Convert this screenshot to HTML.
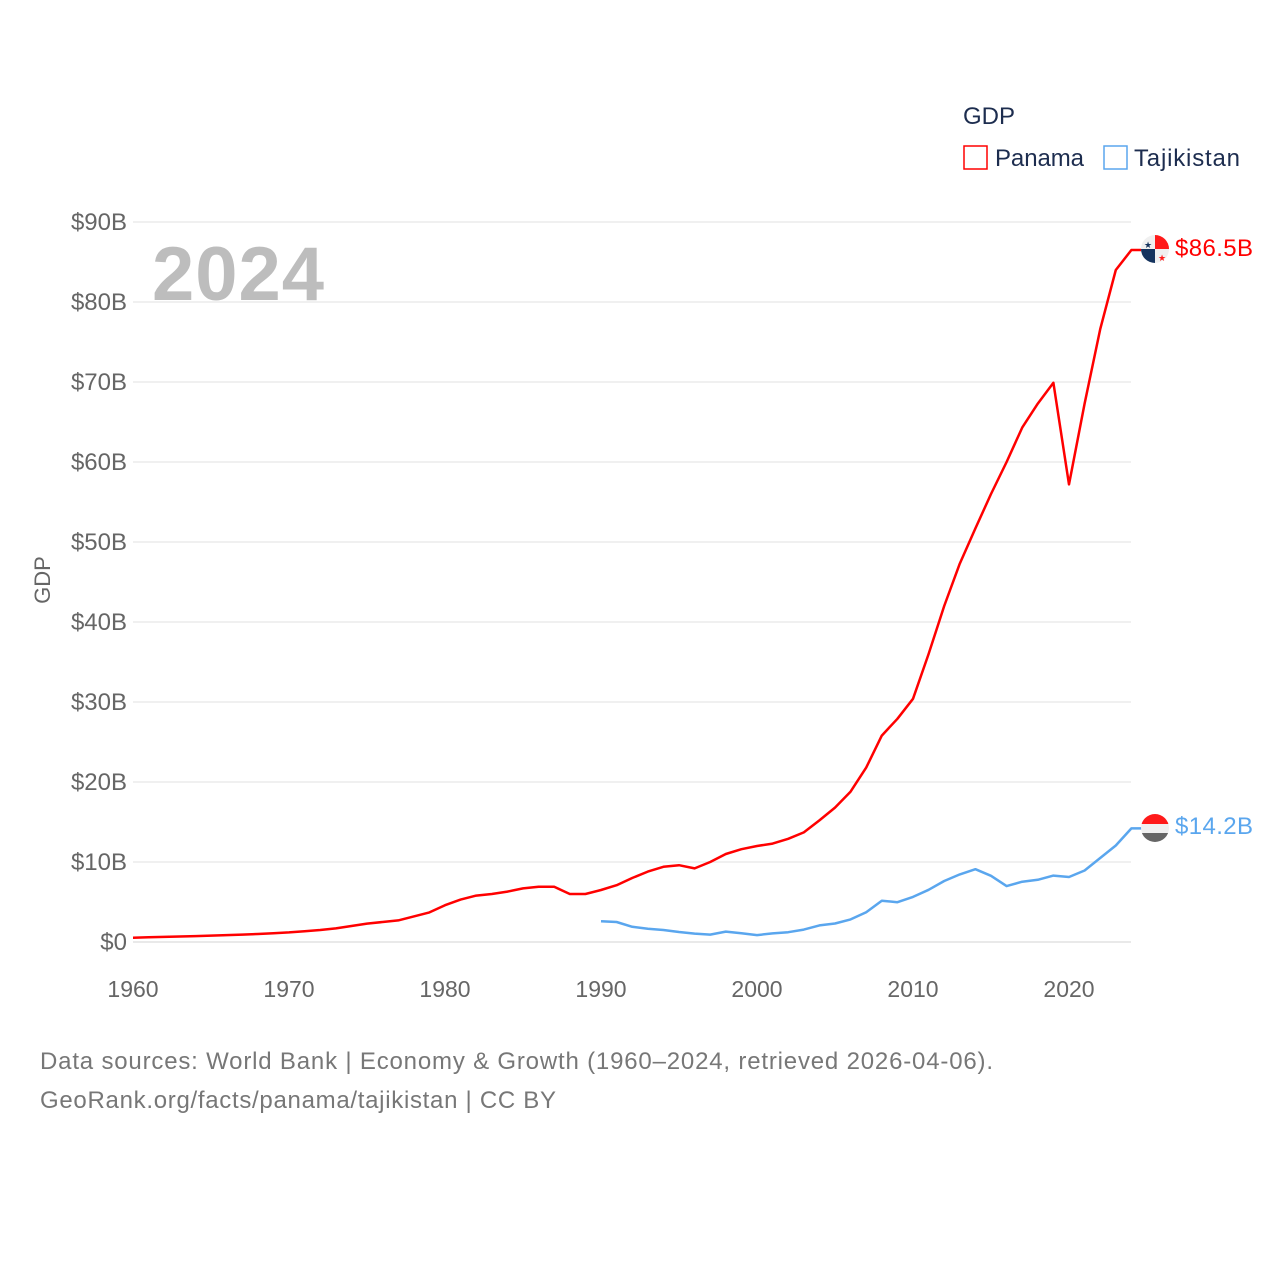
<!DOCTYPE html>
<html><head><meta charset="utf-8">
<style>
body{margin:0;background:#fff;font-family:"Liberation Sans",sans-serif;}
svg text{font-family:"Liberation Sans",sans-serif;}
</style></head>
<body>
<svg width="1280" height="1280" viewBox="0 0 1280 1280">
<g id="grid"></g>
<g id="yticks"></g>
<g id="xticks"></g>
<text x="152" y="300" font-size="76" font-weight="bold" fill="#bdbdbd" textLength="172">2024</text>
<text transform="translate(50,580) rotate(-90)" text-anchor="middle" font-size="22" fill="#666">GDP</text>
<g id="lines"></g>
<g>
<text x="963" y="124" font-size="24" fill="#1d2d4f">GDP</text>
<g>
<rect x="964" y="146" width="23" height="23" fill="none" stroke="#ff0000" stroke-width="1.5"/>
<text x="995" y="166" font-size="24" fill="#1d2d4f" textLength="89">Panama</text></g>
<g>
<rect x="1104" y="146" width="23" height="23" fill="none" stroke="#5aa6ee" stroke-width="1.5"/>
<text x="1134" y="166" font-size="24" fill="#1d2d4f" textLength="106">Tajikistan</text></g>
</g>
<g>
<clipPath id="c1"><circle cx="1155" cy="249" r="14"/></clipPath>
<g clip-path="url(#c1)"><rect x="1141" y="235" width="28" height="28" fill="#f0f0f0"/>
<rect x="1155" y="235" width="14" height="14" fill="#ff1a1a"/><rect x="1141" y="249" width="14" height="14" fill="#15335e"/></g>
<text x="1148" y="248" font-size="9" fill="#15335e" text-anchor="middle">★</text>
<text x="1162" y="261" font-size="9" fill="#ff1a1a" text-anchor="middle">★</text>
</g>
<text x="1175" y="256" font-size="24" fill="#ff0000" textLength="78">$86.5B</text>
<g>
<clipPath id="c2"><circle cx="1155" cy="828" r="14"/></clipPath>
<g clip-path="url(#c2)"><rect x="1141" y="814" width="28" height="10" fill="#ff1a1a"/><rect x="1141" y="824" width="28" height="9" fill="#f0f0f0"/><rect x="1141" y="833" width="28" height="10" fill="#666"/></g>
</g>
<text x="1175" y="834" font-size="24" fill="#5aa6ee" textLength="78">$14.2B</text>
<text x="40" y="1069" font-size="24" fill="#777" textLength="953">Data sources: World Bank | Economy &amp; Growth (1960–2024, retrieved 2026-04-06).</text>
<text x="40" y="1108" font-size="24" fill="#777" textLength="516">GeoRank.org/facts/panama/tajikistan | CC BY</text>
</svg>
<script>
const yTickValues=[0,10,20,30,40,50,60,70,80,90];
const yTickLabels=["$0","$10B","$20B","$30B","$40B","$50B","$60B","$70B","$80B","$90B"];
const xTickValues=[1960,1970,1980,1990,2000,2010,2020];
const panamaStart=1960;
const panamaGDP=[0.54,0.59,0.64,0.69,0.74,0.8,0.86,0.93,1.0,1.1,1.2,1.35,1.5,1.7,2.0,2.3,2.5,2.7,3.2,3.7,4.6,5.3,5.8,6.0,6.3,6.7,6.9,6.9,6.0,6.0,6.5,7.1,8.0,8.8,9.4,9.6,9.2,10.0,11.0,11.6,12.0,12.3,12.9,13.7,15.2,16.8,18.8,21.8,25.8,27.9,30.4,36,42,47.3,51.7,56,60,64.3,67.3,69.9,57.2,67.3,76.6,84.0,86.5];
const tajikStart=1990;
const tajikGDP=[2.6,2.5,1.9,1.65,1.5,1.25,1.05,0.92,1.3,1.09,0.86,1.08,1.22,1.55,2.08,2.31,2.83,3.72,5.16,4.98,5.64,6.52,7.63,8.45,9.1,8.27,6.99,7.54,7.77,8.3,8.13,8.94,10.5,12.06,14.2];
const NS="http://www.w3.org/2000/svg";
const xs=y=>133+(y-1960)*15.6;
const ys=v=>942-v*8;
const grid=document.getElementById('grid'),yt=document.getElementById('yticks'),xt=document.getElementById('xticks'),lines=document.getElementById('lines');
yTickValues.forEach((v,i)=>{
 const l=document.createElementNS(NS,'line');
 l.setAttribute('x1',133);l.setAttribute('x2',1131);l.setAttribute('y1',ys(v));l.setAttribute('y2',ys(v));
 l.setAttribute('stroke',v===0?'#e2e2e2':'#ececec');l.setAttribute('stroke-width','1.5');
 
 
 grid.appendChild(l);
 const t=document.createElementNS(NS,'text');
 t.setAttribute('x',127);t.setAttribute('y',ys(v)+8);t.setAttribute('text-anchor','end');t.setAttribute('font-size','24');t.setAttribute('fill','#666');
 t.textContent=yTickLabels[i];
 
 
 yt.appendChild(t);
});
xTickValues.forEach(v=>{
 const t=document.createElementNS(NS,'text');
 t.setAttribute('x',xs(v));t.setAttribute('y',997);t.setAttribute('text-anchor','middle');t.setAttribute('font-size','23');t.setAttribute('fill','#666');
 t.textContent=v;
 
 
 xt.appendChild(t);
});
function drawLine(start,vals,color,name){
 const pts=vals.map((v,i)=>xs(start+i).toFixed(1)+','+ys(v).toFixed(1));
 const last=vals[vals.length-1];
 pts.push((xs(start+vals.length-1)+10).toFixed(1)+','+ys(last).toFixed(1));
 const p=document.createElementNS(NS,'polyline');
 p.setAttribute('points',pts.join(' '));p.setAttribute('fill','none');p.setAttribute('stroke',color);p.setAttribute('stroke-width','2.5');p.setAttribute('stroke-linejoin','round');
 
 
 lines.appendChild(p);
}
drawLine(tajikStart,tajikGDP,'#5aa6ee','tajikistan-line');
drawLine(panamaStart,panamaGDP,'#ff0000','panama-line');
</script>
</body></html>
